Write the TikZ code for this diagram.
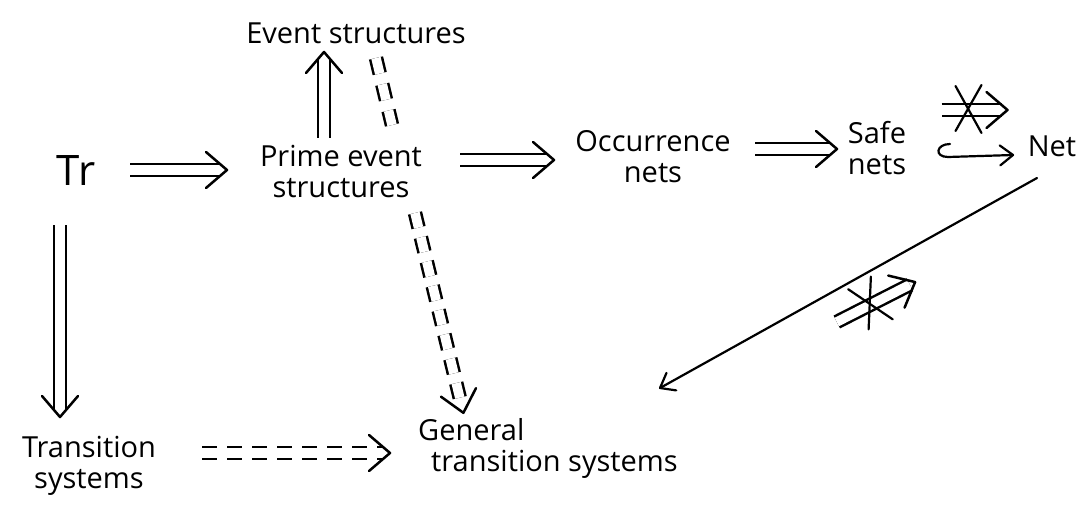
\documentclass[tikz,border=0pt]{standalone}
\usepackage{fontspec}
\setmainfont{Open Sans}
\usetikzlibrary{calc,decorations.markings}

\begin{document}
\begin{tikzpicture}[x=1pt,y=-1pt,
  lbl/.style={inner sep=0pt, align=center, font=\fontsize{29}{31}\selectfont},
  tip/.style={postaction={decorate, decoration={markings, mark=at position 1 with {\draw[solid, line width=2.5pt, line cap=round, line join=round] (-15,-18) -- (6,0) -- (-15,18);}}}},
  imp/.style={draw, line width=2.5pt, double=white, double distance=9.5pt, tip},
  dimp/.style={imp, dash pattern=on 15pt off 10pt},
  ddbl/.style={draw, line width=2.5pt, double=white, double distance=9.5pt, dash pattern=on 16pt off 11pt},
  arr/.style={draw, line width=2.2pt, line cap=round, postaction={decorate, decoration={markings, mark=at position 1 with {\draw[solid, line width=2.2pt, line cap=round, line join=round] (-13,-10) -- (0,0) -- (-13,10);}}}},
  stroke/.style={draw, line width=2.2pt, line cap=round},
  pics/notimp/.style={code={
    \draw[imp] (-#1,0) -- (#1-6,0);
    \draw[stroke] (-19,-24) -- (7,23);
    \draw[stroke] (7,-25) -- (-19,21);
  }}
]
\useasboundingbox (0,0) rectangle (1084,508);
\fill[white] (0,0) rectangle (1084,508);

% objects
\node[lbl] (es) at (356,33) {Event structures};
\node[lbl, font=\fontsize{42}{44}\selectfont] (tr) at (76,171) {Tr};
\node[lbl] (pes) at (341,171) {Prime event\\structures};
\node[lbl] (occ) at (653,157) {Occurrence\\nets};
\node[lbl] (safe) at (877,148) {Safe\\nets};
\node[lbl] (net) at (1052,146) {Net};
\node[lbl] (ts) at (89,466) {Transition\\systems};
\node[lbl, align=left] (gts) at (548,448) {General\\\hspace*{13pt}transition systems};

% translations between models
\draw[imp] ($(tr.center)+(54,-1)$) -- ($(pes.center)+(-120,-1)$);
\draw[imp] ($(pes.center)+(-17,-33)$) -- ($(es.center)+(-32,25)$);
\draw[ddbl] ($(es.center)+(20,25)$) -- ($(pes.center)+(51,-46)$);
\draw[imp] ($(pes.center)+(119,-11)$) -- ($(occ.center)+(-105,3)$);
\draw[imp] ($(occ.center)+(102,-8)$) -- ($(safe.center)+(-46,1)$);
\draw[arr] ($(safe.center)+(73,-4)$) .. controls +(-14,0) and +(-14,0) .. ($(safe.center)+(71,9)$) -- ($(net.center)+(-39,9)$);
\pic at ($(safe.center)!0.5!(net.center)+(10,-37)$) {notimp=33};
\draw[dimp] ($(pes.center)+(74,42)$) -- ($(gts.center)+(-86,-41)$);
\draw[imp] ($(tr.center)+(-16,54)$) -- ($(ts.center)+(-29,-55)$);
\draw[dimp] ($(ts.center)+(113,-13)$) -- ($(gts.center)+(-164,5)$);
\draw[arr] ($(net.center)+(-15,32)$) -- ($(gts.center)+(112,-60)$);
\pic[rotate=27] at ($(net.center)!0.5!(gts.center)+(76,5)$) {notimp=44};
\end{tikzpicture}
\end{document}
